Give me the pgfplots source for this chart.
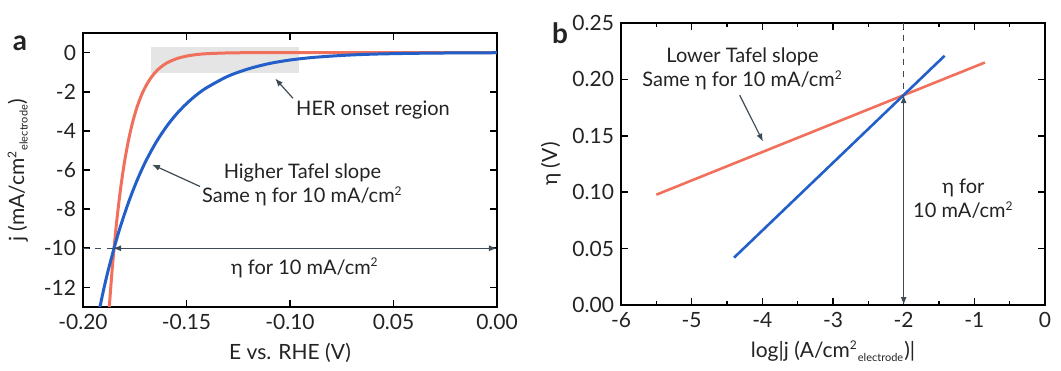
\documentclass[border=0pt]{standalone}
\usepackage{fontspec}
\setmainfont{Lato}
\usepackage{pgfplots}
\pgfplotsset{compat=1.18}
\usetikzlibrary{arrows.meta}
\definecolor{redc}{RGB}{240,112,92}
\definecolor{bluec}{RGB}{35,95,200}
\definecolor{txt}{RGB}{35,35,35}
\definecolor{annl}{RGB}{60,75,85}
\newcommand{\sub}[1]{\textsubscript{\fontsize{5.5}{6}\selectfont #1}}
\newcommand{\sq}{\textsuperscript{\fontsize{6}{7}\selectfont 2}}
\begin{document}
\fontsize{10}{12}\selectfont
\begin{tikzpicture}[>={Latex[length=4pt,width=3pt]}]
\path[use as bounding box] (0,0) rectangle (530.5pt,185pt);
\pgfplotsset{common/.style={
  scale only axis,
  axis line style={line width=0.9pt,black},
  every tick/.style={line width=0.8pt,black},
  tick align=inside,
  major tick length=3.5pt,
  minor tick length=2pt,
  /pgf/number format/assume math mode=true,
  scaled ticks=false,
  tick label style={text=txt, font=\fontsize{10.5}{12}\selectfont},
  label style={text=txt, font=\fontsize{10.5}{12}\selectfont},
}}
% ---------------- panel a ----------------
\begin{axis}[common,
  at={(41.5pt,31.5pt)}, anchor=south west,
  width=207pt, height=137pt,
  xmin=-0.20, xmax=0, ymin=-13, ymax=1,
  xtick={-0.2,-0.15,-0.1,-0.05,0},
  xticklabels={-0.20,-0.15,-0.10,0.05,0.00},
  ytick={-12,-10,-8,-6,-4,-2,0},
  xlabel={E vs. RHE (V)},
  ylabel={j (mA/cm\sq\sub{electrode})},
  ylabel style={yshift=1pt},
  xlabel style={yshift=0pt},
]
\addplot[fill=gray!20, draw=none] coordinates {(-0.1673,0.27) (-0.0957,0.27) (-0.0957,-1.05) (-0.1673,-1.05)} -- cycle;
\addplot[redc, line width=1.5pt, smooth] coordinates {
(-0.190,-17.8) (-0.188,-14.1) (-0.186,-11.2) (-0.184,-8.91) (-0.182,-7.08)
(-0.180,-5.62) (-0.178,-4.47) (-0.176,-3.55) (-0.174,-2.82) (-0.172,-2.24)
(-0.170,-1.78) (-0.167,-1.26) (-0.164,-0.89) (-0.160,-0.56) (-0.155,-0.32)
(-0.150,-0.18) (-0.145,-0.10) (-0.140,-0.056) (-0.130,-0.018) (-0.120,-0.006)
(-0.100,-0.001) (0,0)};
\addplot[bluec, line width=1.5pt, smooth] coordinates {
(-0.195,-14.7) (-0.192,-13.1) (-0.190,-12.1) (-0.188,-11.2) (-0.185,-10)
(-0.182,-8.91) (-0.178,-7.65) (-0.174,-6.56) (-0.170,-5.62) (-0.165,-4.64)
(-0.160,-3.83) (-0.155,-3.16) (-0.150,-2.61) (-0.145,-2.15) (-0.140,-1.78)
(-0.130,-1.21) (-0.120,-0.83) (-0.110,-0.56) (-0.100,-0.38) (-0.090,-0.26)
(-0.080,-0.18) (-0.070,-0.12) (-0.060,-0.08) (-0.050,-0.056) (-0.040,-0.038)
(-0.030,-0.026) (-0.020,-0.018) (0,-0.008)};
\draw[dashed, annl, line width=0.6pt] (axis cs:-0.2,-10) -- (axis cs:-0.1855,-10);
\draw[<->, annl, line width=0.6pt] (axis cs:-0.1855,-10) -- (axis cs:0,-10);
\draw[->, annl, line width=0.6pt] (axis cs:-0.0986,-2.33) -- (axis cs:-0.1072,-1.32);
\draw[->, annl, line width=0.6pt] (axis cs:-0.1435,-6.84) -- (axis cs:-0.1667,-5.72);
\node[txt] at (axis cs:-0.0599,-2.94) {HER onset region};
\node[txt, align=center] at (axis cs:-0.094,-6.75) {Higher Tafel slope\\[0pt]Same η for 10 mA/cm\sq};
\node[txt] at (axis cs:-0.0928,-11.0) {η for 10 mA/cm\sq};
\end{axis}
% ---------------- panel b ----------------
\begin{axis}[common,
  at={(310.5pt,32.5pt)}, anchor=south west,
  width=212pt, height=141pt,
  xmin=-6, xmax=0, ymin=0, ymax=0.25,
  xtick={-6,-5,-4,-3,-2,-1,0},
  minor x tick num=1,
  ytick={0,0.05,0.10,0.15,0.20,0.25},
  yticklabel style={/pgf/number format/.cd, fixed, fixed zerofill, precision=2},
  xlabel={log|j (A/cm\sq\sub{electrode})|},
  ylabel={η (V)},
  ylabel style={yshift=-1pt},
  xlabel style={yshift=0pt},
]
\addplot[redc, line width=1.3pt] coordinates {(-5.5,0.0978) (-0.85,0.215)};
\addplot[bluec, line width=1.3pt] coordinates {(-4.4,0.042) (-1.42,0.221)};
\draw[dashed, annl, line width=0.6pt] (axis cs:-2,0.25) -- (axis cs:-2,0.186);
\draw[<->, annl, line width=0.6pt] (axis cs:-2,0.186) -- (axis cs:-2,0);
\draw[->, annl, line width=0.6pt] (axis cs:-4.32,0.186) -- (axis cs:-3.99,0.1448);
\node[txt, align=center] at (axis cs:-4.28,0.209) {Lower Tafel slope\\[0pt]Same η for 10 mA/cm\sq};
\node[txt, align=center] at (axis cs:-1.155,0.094) {η for\\[0pt]10 mA/cm\sq};
\end{axis}
\node[txt, font=\fontsize{14}{16}\selectfont\bfseries] at (10pt,163.5pt) {a};
\node[txt, font=\fontsize{14}{16}\selectfont\bfseries] at (280pt,168.5pt) {b};
\end{tikzpicture}
\end{document}
